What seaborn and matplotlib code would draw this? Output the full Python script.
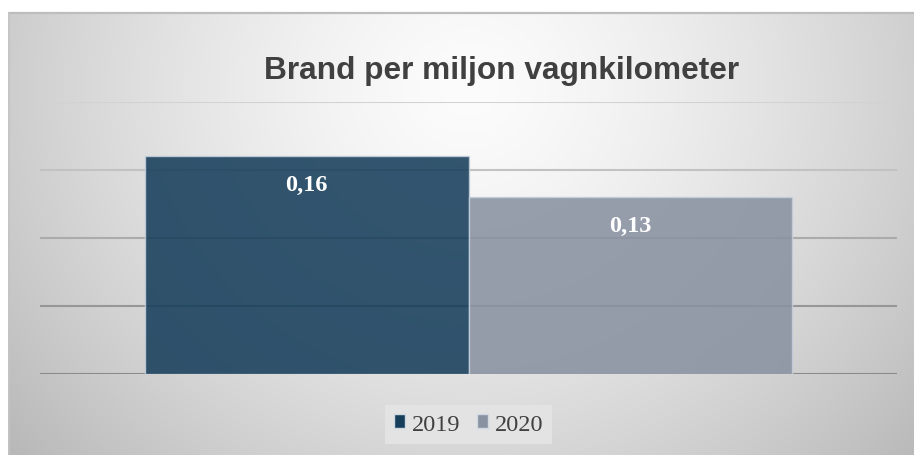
import numpy as np
import pandas as pd
import matplotlib
matplotlib.use("Agg")
import matplotlib.pyplot as plt
import seaborn as sns

# ---- data -------------------------------------------------------------
category = ["Brand per miljon vagnkilometer"]
years = ["2019", "2020"]
values = [0.16, 0.13]
value_labels = ["0,16", "0,13"]
grid_values = [0.0, 0.05, 0.10, 0.15, 0.20]
title = "Brand per miljon vagnkilometer"

df = pd.DataFrame({
    "kategori": category * len(years),
    "år": years,
    "värde": values,
})

# ---- styling ----------------------------------------------------------
bar_colors = {"2019": "#0C4066", "2020": "#8591A5"}
grid_colors = ["#8a8a8a", "#979797", "#ababab", "#c2c2c2", "#d2d2d2"]

W, H = 914, 456
fig = plt.figure(figsize=(W / 100, H / 100), dpi=100)

# soft radial backdrop of the chart area
bg = fig.add_axes([0, 0, 1, 1], zorder=-10)
bg.set_xlim(0, W)
bg.set_ylim(H, 0)
bg.axis("off")
yy, xx = np.mgrid[0:H, 0:W] + 0.5
r = np.hypot((xx - 470) / 520, (yy - 90) / 480)
v = np.clip(252 - 55 * r ** 1.4, 0, 255) / 255
v[(yy < 13) | (xx < 8)] = 1.0
bg.imshow(np.dstack([v, v, v]), extent=(0, W, H, 0), aspect="auto",
          interpolation="bilinear")
bg.plot([8, W], [13.5, 13.5], color="#bdbdbd", lw=1.6, solid_capstyle="butt")
bg.plot([8.5, 8.5], [13, H], color="#c4c4c4", lw=1.2, solid_capstyle="butt")
bg.set_xlim(0, W)
bg.set_ylim(H, 0)

# plot area
ax = fig.add_axes([40 / W, (H - 375) / H, 857 / W, 272 / H])
ax.set_facecolor("none")

for gv, gc in zip(grid_values, grid_colors):
    ax.axhline(gv, color=gc, lw=1.5, zorder=0)

sns.barplot(data=df, x="kategori", y="värde", hue="år", palette=bar_colors,
            width=0.755, alpha=0.88, edgecolor="#c3cfdb", linewidth=1.0,
            ax=ax, zorder=2)

ax.set_xlim(-0.5, 0.5)
ax.set_ylim(0, 0.20)
ax.set_xlabel("")
ax.set_ylabel("")
ax.set_xticks([])
ax.set_yticks([])
for s in ax.spines.values():
    s.set_visible(False)

# value labels inside the bars
for container, lab in zip(ax.containers, value_labels):
    for bar in container:
        cx = bar.get_x() + bar.get_width() / 2
        top = bar.get_height()
        ax.annotate(lab, (cx, top), xytext=(0, -20), textcoords="offset points",
                    ha="center", va="center", color="white", fontsize=17.5,
                    fontweight="bold", family="Liberation Serif", zorder=5)

# legend below the plot
leg = ax.legend(loc="center", bbox_to_anchor=(468.5 / W, 1 - 425.5 / H),
                bbox_transform=fig.transFigure, ncol=2, frameon=True,
                fancybox=False, framealpha=1, handlelength=0.47,
                handleheight=0.5, handletextpad=0.25, columnspacing=0.7,
                borderpad=0.35, borderaxespad=0,
                prop={"family": "Liberation Serif", "size": 17.5})
leg.get_frame().set_facecolor("#e3e3e3")
leg.get_frame().set_edgecolor("none")
for t in leg.get_texts():
    t.set_color("#404040")
for h in leg.legend_handles:
    h.set_alpha(1)
    h.set_edgecolor("#d0d8e2")

fig.text(501.7 / W, 1 - 79.3 / H, title, ha="center", va="baseline",
         fontsize=22.8, fontweight="bold", family="Liberation Sans",
         color="#404040")

fig.savefig("out.png", dpi=100)
